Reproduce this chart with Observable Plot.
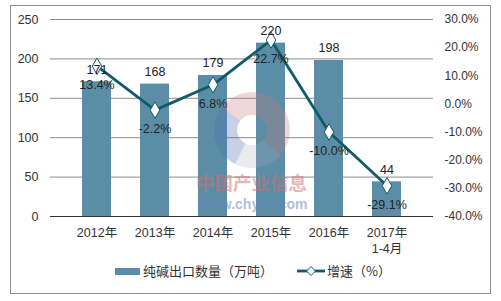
<!DOCTYPE html>
<html><head><meta charset="utf-8">
<script src="https://cdn.jsdelivr.net/npm/d3@7"></script>
<script src="https://cdn.jsdelivr.net/npm/@observablehq/plot@0.6"></script>
<style>
body{margin:0;background:#fff;}
#wrap{position:relative;width:501px;height:301px;overflow:hidden;font-family:"Liberation Sans",Arial,"Noto Sans CJK SC",sans-serif;color:#404040;}
#frame{position:absolute;left:10px;top:5px;width:481px;height:289px;border:1px solid #8c8c8c;box-sizing:border-box;}
#chart{position:absolute;left:0;top:0;}
#logo{position:absolute;left:0;top:0;pointer-events:none;}
.lg{position:absolute;font-size:13px;line-height:16px;white-space:nowrap;font-family:"Noto Sans CJK SC","Liberation Sans",sans-serif;color:#333;}
.wm{position:absolute;font-weight:bold;white-space:nowrap;pointer-events:none;line-height:1;}
</style></head>
<body><div id="wrap"><div id="frame"></div><div id="chart"></div>
<svg id="logo" width="501" height="301"></svg>
<div class="wm" style="left:196px;top:173px;font-size:18.5px;color:rgba(215,110,110,0.5);font-family:'Noto Sans CJK SC';">中国产业信息</div>
<div class="wm" style="left:199px;top:197px;font-size:14px;color:rgba(110,130,200,0.55);">www.chyxx.com</div>
<div id="legend"></div>
</div>
<script>
const years = ["2012年","2013年","2014年","2015年","2016年","2017年\n1-4月"];
const exportsQty = [171,168,179,220,198,44];
const growth = [13.4,-2.2,6.8,22.7,-10.0,-29.1];
const leftTicks = [0,50,100,150,200,250];
const rightTicks = [-40,-30,-20,-10,0,10,20,30];
const barName = "纯碱出口数量（万吨）";
const lineName = "增速（%）";

const barColor = "#5b8ea6";
const lineColor = "#0f5a6c";
// map percent axis (-40..30) onto left axis (0..250)
const toY = p => (p + 40) * 250 / 70;
const fromY = v => v * 70 / 250 - 40;

const data = years.map((y,i)=>({year:y, qty:exportsQty[i], g:growth[i], gy:toY(growth[i])}));

const chart = Plot.plot({
  width: 501, height: 301,
  marginLeft: 50, marginRight: 68, marginTop: 19, marginBottom: 85,
  style: {fontFamily: '"Liberation Sans",Arial,"Noto Sans CJK SC",sans-serif', fontSize: "12px", background: "transparent", color: "#333"},
  x: {domain: years, padding: 0.5, label: null},
  y: {domain: [0,250], label: null},
  marks: [
    Plot.ruleY(leftTicks.filter(d=>d>0), {stroke: "#8c8c8c", strokeWidth: 1}),
    Plot.barY(data, {x: "year", y: "qty", fill: barColor}),
    Plot.ruleY([0], {stroke: "#333", strokeWidth: 1.2}),
    Plot.axisY({ticks: leftTicks, tickSize: 0, tickPadding: 12, label: null, fontSize: 12.5, fill: "#333"}),
    Plot.axisY({anchor: "right", ticks: rightTicks.map(toY), tickFormat: v => fromY(v).toFixed(1) + "%", tickSize: 0, tickPadding: 11, label: null, fontSize: 12, fill: "#333"}),
    Plot.axisX({tickSize: 0, tickPadding: 9, label: null, fontSize: 12.5, fill: "#333", lineHeight: 1.3}),
    Plot.line(data, {x: "year", y: "gy", stroke: lineColor, strokeWidth: 2.8, curve: "linear"}),
    Plot.dot(data, {x: "year", y: "gy", symbol: "diamond", r: 5, fill: "white", stroke: lineColor, strokeWidth: 1}),
    Plot.text(data, {x: "year", y: "qty", text: d => String(d.qty), dy: -12, fontSize: 12.5, fill: "#222"}),
    Plot.text(data, {x: "year", y: "gy", text: d => d.g.toFixed(1) + "%", dy: 19, fontSize: 12.5, fill: "#222"})
  ]
});
document.getElementById("chart").appendChild(chart);

// faint watermark logo
(function(){
  const svg = d3.select("#logo");
  const g = svg.append("g").attr("transform","translate(252,130)");
  const arc = d3.arc().innerRadius(15).outerRadius(38);
  g.append("path").attr("d", arc({startAngle:-0.9, endAngle:2.3})).attr("fill","rgba(200,120,130,0.3)");
  g.append("path").attr("d", arc({startAngle:2.3, endAngle:3.6})).attr("fill","rgba(170,170,190,0.25)");
  g.append("path").attr("d", arc({startAngle:3.6, endAngle:5.38})).attr("fill","rgba(80,110,180,0.32)");
})();

const lg = document.getElementById("legend");
lg.innerHTML = `
<div style="position:absolute;left:115px;top:268px;width:25px;height:7px;background:${barColor}"></div>
<div class="lg" style="left:143px;top:263px;">${barName}</div>
<svg style="position:absolute;left:295px;top:263px" width="32" height="16"><line x1="2" y1="8" x2="30" y2="8" stroke="${lineColor}" stroke-width="2.8"/><path d="M16,3.5 L20.5,8 L16,12.5 L11.5,8 Z" fill="white" stroke="${lineColor}" stroke-width="1"/></svg>
<div class="lg" style="left:327px;top:263px;">${lineName}</div>`;
</script>
</body></html>
